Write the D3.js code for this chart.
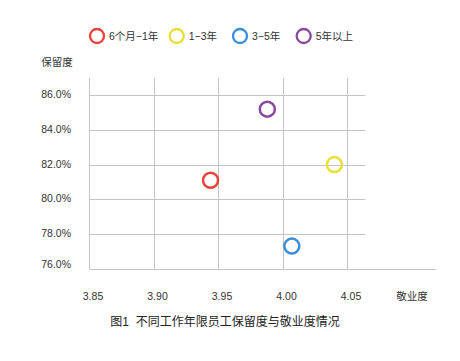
<!DOCTYPE html>
<html>
<head>
<meta charset="utf-8">
<script src="https://cdn.jsdelivr.net/npm/d3@7"></script>
<style>
  body { margin: 0; background: #fff; }
  svg { display: block; font-family: "Liberation Sans", "Noto Sans CJK SC", sans-serif; }
</style>
</head>
<body>
<div id="chart"></div>
<script>
// données
const groups = ['6个月−1年', '1−3年', '3−5年', '5年以上'];
const engagement = [3.944, 4.040, 4.007, 3.988];   // 敬业度
const retention = [81.1, 82.0, 77.3, 85.2];        // 保留度 (%)
const colors = ['#e8423b', '#e6e035', '#3a8fd8', '#8a4a9c'];
const xTicks = [3.85, 3.90, 3.95, 4.00, 4.05];
const yTicks = [76, 78, 80, 82, 84, 86];

const width = 460, height = 361;
const svg = d3.select('#chart').append('svg')
  .attr('width', width).attr('height', height);

const x = d3.scaleLinear().domain([3.85, 4.05]).range([89.3, 347.3]);
const y = d3.scaleLinear().domain([76, 86]).range([268.6, 95.3]);

const gridTop = 78, axisY = 269.5, axisX = 89.5;

// grille verticale
svg.append('g').selectAll('line')
  .data(xTicks.slice(1))
  .enter().append('line')
  .attr('x1', d => Math.round(x(d)) + 0.5).attr('x2', d => Math.round(x(d)) + 0.5)
  .attr('y1', gridTop).attr('y2', axisY)
  .attr('stroke', '#c4c4c4').attr('stroke-width', 1);

// grille horizontale
svg.append('g').selectAll('line')
  .data(yTicks.slice(1))
  .enter().append('line')
  .attr('x1', axisX).attr('x2', x(4.064))
  .attr('y1', d => Math.round(y(d)) + 0.5).attr('y2', d => Math.round(y(d)) + 0.5)
  .attr('stroke', '#c4c4c4').attr('stroke-width', 1);

// axes
svg.append('line')
  .attr('x1', axisX).attr('x2', axisX).attr('y1', gridTop).attr('y2', axisY)
  .attr('stroke', '#c4c4c4');
svg.append('line')
  .attr('x1', axisX).attr('x2', x(4.119)).attr('y1', axisY).attr('y2', axisY)
  .attr('stroke', '#c4c4c4');

// étiquettes Y
svg.append('g').selectAll('text')
  .data(yTicks)
  .enter().append('text')
  .attr('x', 71)
  .attr('y', d => d === 76 ? y(d) - 4.5 : y(d) - 1)
  .attr('text-anchor', 'end')
  .attr('dominant-baseline', 'central')
  .attr('font-size', 10.5)
  .attr('fill', '#333')
  .text(d => d.toFixed(1) + '%');

// étiquettes X
svg.append('g').selectAll('text')
  .data(xTicks)
  .enter().append('text')
  .attr('x', d => x(d) + 3.7)
  .attr('y', 296)
  .attr('text-anchor', 'middle')
  .attr('dominant-baseline', 'central')
  .attr('font-size', 10.5)
  .attr('fill', '#333')
  .text(d => d.toFixed(2));

svg.append('text')
  .attr('x', 412).attr('y', 296)
  .attr('text-anchor', 'middle').attr('dominant-baseline', 'central')
  .attr('font-size', 10.5).attr('fill', '#333')
  .text('敬业度');

svg.append('text')
  .attr('x', 57).attr('y', 62)
  .attr('text-anchor', 'middle').attr('dominant-baseline', 'central')
  .attr('font-size', 10.5).attr('fill', '#333')
  .text('保留度');

// points
svg.append('g').selectAll('circle')
  .data(groups)
  .enter().append('circle')
  .attr('cx', (d, i) => x(engagement[i]))
  .attr('cy', (d, i) => y(retention[i]))
  .attr('r', 7.5)
  .attr('fill', 'none')
  .attr('stroke', (d, i) => colors[i])
  .attr('stroke-width', 2.5);

// légende
const legendX = [97, 176.7, 240, 303.7];
const legend = svg.append('g').selectAll('g')
  .data(groups)
  .enter().append('g')
  .attr('transform', (d, i) => `translate(${legendX[i]},36)`);
legend.append('circle')
  .attr('r', 7)
  .attr('fill', 'none')
  .attr('stroke', (d, i) => colors[i])
  .attr('stroke-width', 2.3);
legend.append('text')
  .attr('x', 12)
  .attr('dominant-baseline', 'central')
  .attr('font-size', 10.5)
  .attr('fill', '#333')
  .text(d => d);

// titre
svg.append('text')
  .attr('x', 225).attr('y', 322)
  .attr('text-anchor', 'middle').attr('dominant-baseline', 'central')
  .attr('font-size', 12).attr('fill', '#222')
  .attr('xml:space', 'preserve')
  .text('图1  不同工作年限员工保留度与敬业度情况');
</script>
</body>
</html>
